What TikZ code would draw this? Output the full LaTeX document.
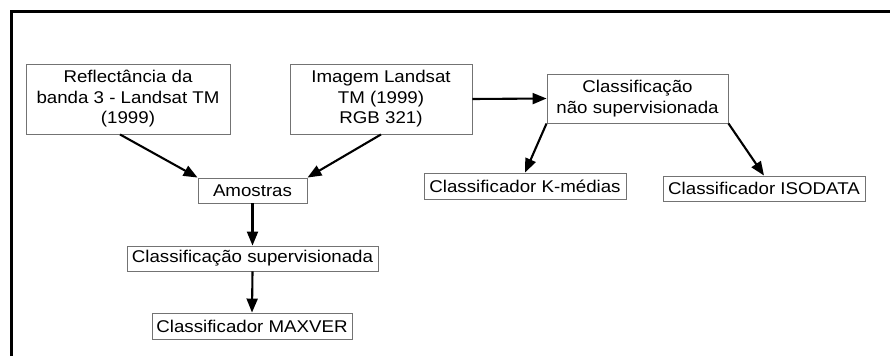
\documentclass[tikz,border=0pt]{standalone}
\usepackage{fontspec}
\setmainfont[FakeStretch=1.10]{Liberation Sans}
\usepackage{tikz}
\usetikzlibrary{arrows.meta}

\tikzset{
  caixa/.style={draw=black!55, line width=0.9pt, inner sep=0pt, align=center,
    font=\fontsize{17}{20.5}\selectfont},
  seta/.style={line width=2.1pt, -{Triangle[length=14pt,width=11pt]}}
}

\begin{document}
\begin{tikzpicture}[x=1pt,y=-1pt]
  \useasboundingbox (0,0) rectangle (890,356);

  % Frame (top and left only)
  \draw[line width=2.5pt] (11.5,356) -- (11.5,11.5) -- (890,11.5);

  % Boxes
  \node[caixa, minimum width=204pt, minimum height=70pt] (refl) at (128,99)
    {Reflectância da\\banda 3 - Landsat TM\\(1999)};
  \node[caixa, minimum width=182pt, minimum height=70pt] (img) at (381,99)
    {Imagem Landsat\\TM (1999)\\RGB 321)};
  \node[caixa, minimum width=109pt, minimum height=25pt] (amostras) at (252.5,190.5) {Amostras};
  \node[caixa, minimum width=251pt, minimum height=25pt] (classup) at (252.5,258.5) {Classificação supervisionada};
  \node[caixa, minimum width=200pt, minimum height=26pt] (maxver) at (252,326) {Classificador MAXVER};
  \node[caixa, minimum width=181pt, minimum height=49pt] (naosup) at (637.5,98.5)
    {Classificação\\não supervisionada};
  \node[caixa, minimum width=202pt, minimum height=26pt] (kmedias) at (525,186) {Classificador K-médias};
  \node[caixa, minimum width=202pt, minimum height=25pt] (isodata) at (764,188.5) {Classificador ISODATA};

  % Arrows
  \draw[seta] ([xshift=-8pt]refl.south) -- (amostras.north west);
  \draw[seta] (img.south) -- (amostras.north east);
  \draw[seta] (img.east) -- (naosup.west);
  \draw[seta] (naosup.south west) -- (kmedias.north);
  \draw[seta] (naosup.south east) -- (isodata.north);
  \draw[seta] (amostras.south) -- (classup.north);
  \draw[seta] (classup.south) -- (maxver.north);

\end{tikzpicture}
\end{document}
